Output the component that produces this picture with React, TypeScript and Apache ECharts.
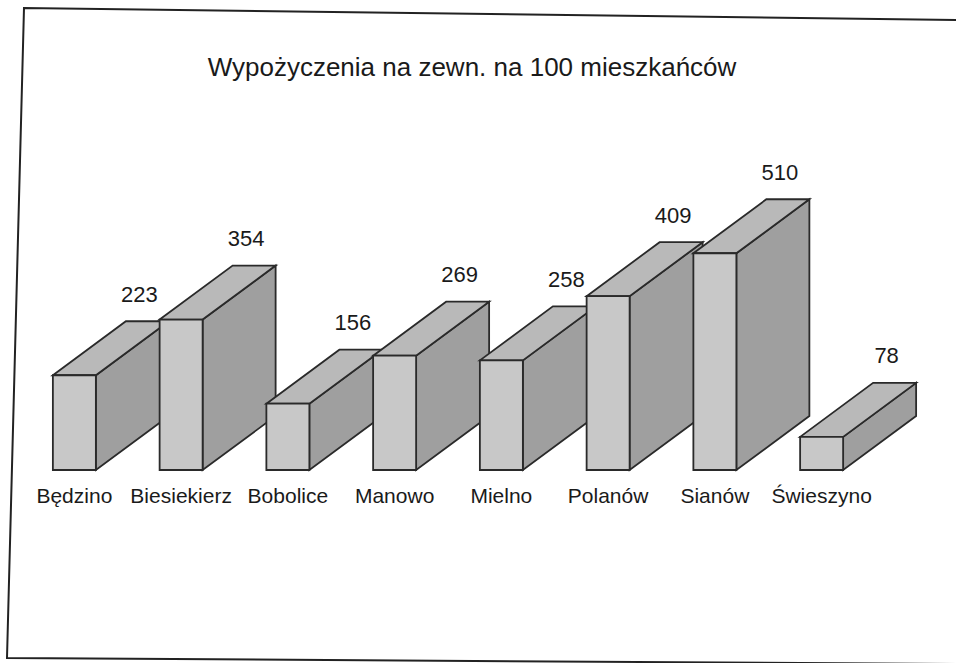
import React, { useEffect, useRef } from "react";
import * as echarts from "echarts";

const TITLE = "Wypożyczenia na zewn. na 100 mieszkańców";
const categories = ["Będzino", "Biesiekierz", "Bobolice", "Manowo", "Mielno", "Polanów", "Sianów", "Świeszyno"];
const values = [223, 354, 156, 269, 258, 409, 510, 78];

const FRONT_W = 43;
const DEPTH_X = 73;
const DEPTH_Y = -54;

export default function App() {
  const ref = useRef<HTMLDivElement>(null);
  useEffect(() => {
    document.body.style.margin = "0";
    const chart = echarts.init(ref.current!, null, { renderer: "svg" });
    const option: any = {
      animation: false,
      backgroundColor: "#ffffff",
      title: {
        text: TITLE,
        left: 467,
        top: 49,
        textAlign: "center",
        textStyle: { fontFamily: "Liberation Sans, Arial, sans-serif", fontSize: 26, fontWeight: "normal", color: "#1a1a1a" },
      },
      grid: { left: 21, width: 854, top: 215, bottom: 193 },
      xAxis: {
        type: "category",
        data: categories,
        axisLine: { show: false },
        axisTick: { show: false },
        axisLabel: {
          margin: 15,
          interval: 0,
          fontFamily: "Liberation Sans, Arial, sans-serif",
          fontSize: 21,
          color: "#1a1a1a",
        },
      },
      yAxis: { type: "value", min: 0, max: 600, show: false, splitLine: { show: false } },
      graphic: [
        {
          type: "polyline",
          shape: { points: [[960, 20], [24, 8], [7, 658], [960, 664]] },
          style: { stroke: "#222", lineWidth: 2, fill: null },
          silent: true,
        },
      ],
      series: [
        {
          type: "custom",
          data: values.map((v, i) => [i, v]),
          renderItem: (params: any, api: any) => {
            const idx = api.value(0);
            const val = api.value(1);
            const top = api.coord([idx, val]);
            const base = api.coord([idx, 0]);
            const x0 = top[0] - FRONT_W / 2;
            const x1 = top[0] + FRONT_W / 2;
            const yT = top[1];
            const yB = base[1];
            const stroke = "#2a2a2a";
            return {
              type: "group",
              children: [
                {
                  type: "polygon",
                  shape: { points: [[x1, yT], [x1 + DEPTH_X, yT + DEPTH_Y], [x1 + DEPTH_X, yB + DEPTH_Y], [x1, yB]] },
                  style: { fill: "#9f9f9f", stroke, lineWidth: 1.8 },
                },
                {
                  type: "polygon",
                  shape: { points: [[x0, yT], [x0 + DEPTH_X, yT + DEPTH_Y], [x1 + DEPTH_X, yT + DEPTH_Y], [x1, yT]] },
                  style: { fill: "#b9b9b9", stroke, lineWidth: 1.8 },
                },
                {
                  type: "rect",
                  shape: { x: x0, y: yT, width: FRONT_W, height: yB - yT },
                  style: { fill: "#c8c8c8", stroke, lineWidth: 1.8 },
                },
                {
                  type: "text",
                  style: {
                    text: String(val),
                    x: top[0] + 65,
                    y: yT + DEPTH_Y - 27,
                    align: "center",
                    verticalAlign: "middle",
                    fontFamily: "Liberation Sans, Arial, sans-serif",
                    fontSize: 22,
                    fill: "#1a1a1a",
                  },
                },
              ],
            };
          },
        },
      ],
    };
    chart.setOption(option);
    return () => chart.dispose();
  }, []);
  return <div ref={ref} style={{ width: 956, height: 663, position: "absolute", left: 0, top: 0 }} />;
}
